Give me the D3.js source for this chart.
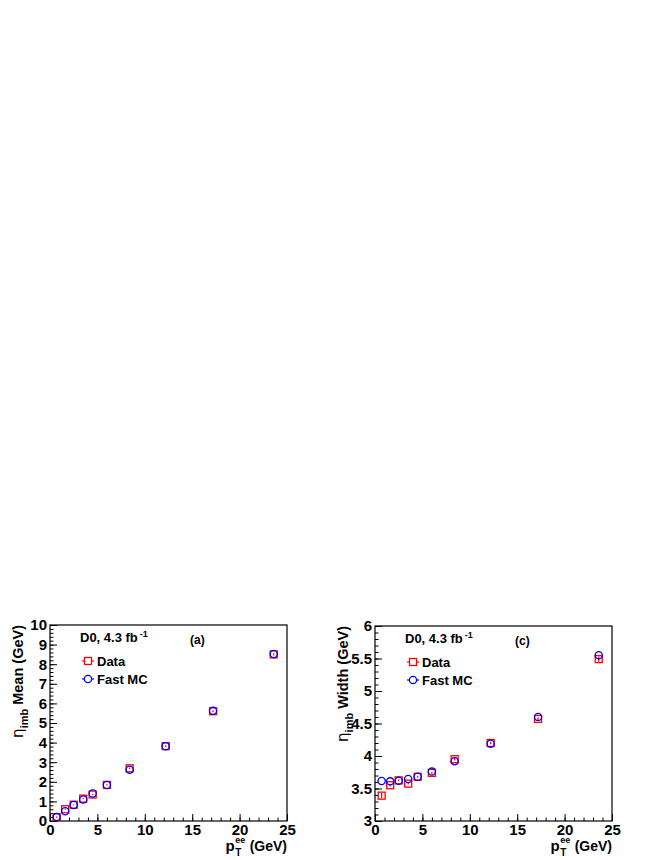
<!DOCTYPE html>
<html>
<head>
<meta charset="utf-8">
<title>eta imb mean and width</title>
<script src="https://d3js.org/d3.v7.min.js"></script>
<style>
body { margin: 0; background: #fff; }
text { font-family: "Liberation Sans", Arial, sans-serif; font-weight: bold; fill: #000; }
.axis path, .axis line { stroke: #000; }
</style>
</head>
<body>
<script>
// pT bin centres (GeV)
var ptBins = [0.7, 1.6, 2.5, 3.5, 4.5, 6.0, 8.4, 12.2, 17.2, 23.6];

// (a) mean of eta_imb
var meanData = [0.20, 0.60, 0.83, 1.14, 1.35, 1.84, 2.69, 3.82, 5.60, 8.50];
var meanDataErr = [0.03, 0.03, 0.03, 0.03, 0.03, 0.03, 0.04, 0.04, 0.05, 0.06];
var meanMC = [0.20, 0.50, 0.82, 1.10, 1.40, 1.84, 2.62, 3.82, 5.62, 8.52];

// (c) width of eta_imb
var widthData = [3.39, 3.55, 3.625, 3.575, 3.68, 3.74, 3.95, 4.20, 4.57, 5.49];
var widthDataErr = [0.04, 0.02, 0.015, 0.015, 0.015, 0.015, 0.02, 0.02, 0.025, 0.04];
var widthMC = [3.615, 3.61, 3.62, 3.645, 3.68, 3.76, 3.92, 4.19, 4.60, 5.55];

var xTicks = [0, 5, 10, 15, 20, 25];
var meanTicks = [0, 1, 2, 3, 4, 5, 6, 7, 8, 9, 10];
var widthTicks = [3, 3.5, 4, 4.5, 5, 5.5, 6];

var legendLabels = ["Data", "Fast MC"];
var lumiLabel = "D0, 4.3 fb";

var W = 664, H = 860;
var svg = d3.select("body").append("svg")
    .attr("width", W)
    .attr("height", H);
svg.append("rect").attr("width", W).attr("height", H).attr("fill", "#fff");

var red = "#ff0000", blue = "#0000ff";

function drawPanel(o) {
  var g = svg.append("g").attr("transform", "translate(" + o.left + "," + o.top + ")");
  var w = o.width, h = o.height;

  var x = d3.scaleLinear().domain([0, 25]).range([0, w]);
  var y = d3.scaleLinear().domain(o.yDomain).range([h, 0]);

  // minor ticks x
  g.append("g").attr("class", "axis")
      .attr("transform", "translate(0," + h + ")")
      .call(d3.axisBottom(x).tickValues(d3.range(0, 26, 1)).tickSize(-3.5).tickFormat(""))
      .call(function(s){ s.select(".domain").remove(); });
  // minor ticks y
  g.append("g").attr("class", "axis")
      .call(d3.axisLeft(y).tickValues(o.yMinor).tickSize(-3.5).tickFormat(""))
      .call(function(s){ s.select(".domain").remove(); });

  // major x
  var xa = g.append("g").attr("class", "axis")
      .attr("transform", "translate(0," + h + ")")
      .call(d3.axisBottom(x).tickValues(xTicks).tickSize(-7).tickPadding(3).tickFormat(d3.format("d")));
  xa.selectAll("text").style("font-size", "15px");
  xa.select(".domain").remove();

  // major y
  var ya = g.append("g").attr("class", "axis")
      .call(d3.axisLeft(y).tickValues(o.yTicks).tickSize(-7).tickPadding(3).tickFormat(o.yFormat));
  ya.selectAll("text").style("font-size", "15px");
  ya.select(".domain").remove();

  // frame
  g.append("rect").attr("width", w).attr("height", h)
      .attr("fill", "none").attr("stroke", "#000").attr("stroke-width", 1.2);

  // y title
  var yt = g.append("text")
      .attr("transform", "translate(" + o.yTitleX + ",0) rotate(-90)")
      .attr("text-anchor", "end")
      .style("font-size", "14.5px");
  yt.append("tspan").style("font-weight", "normal").style("font-family", "DejaVu Sans").style("font-size", "15px").text("\u03b7");
  yt.append("tspan").attr("dy", 5).style("font-size", "11px").text("imb");
  yt.append("tspan").attr("dy", -5).text(" " + o.yTitle);

  // x title: p, subscript T, superscript ee, then (GeV)
  var ty = h + 30;
  var gev = g.append("text").attr("x", w).attr("y", ty).attr("text-anchor", "end")
      .style("font-size", "14px").text("(GeV)");
  var gevW = gev.node().getComputedTextLength();
  var sub = g.append("text").attr("y", ty + 5).style("font-size", "10px").text("T");
  var sup = g.append("text").attr("y", ty - 8).style("font-size", "9px").text("ee");
  var supW = Math.max(sub.node().getComputedTextLength(), sup.node().getComputedTextLength());
  var p = g.append("text").attr("y", ty).style("font-size", "15px").text("p");
  var pW = p.node().getComputedTextLength();
  var px0 = w - gevW - 4 - supW - 1 - pW;
  p.attr("x", px0);
  sub.attr("x", px0 + pW + 0.5);
  sup.attr("x", px0 + pW + 0.5);

  // error bars (data)
  g.selectAll(".err").data(ptBins).enter().append("line")
      .attr("x1", function(d){ return x(d); })
      .attr("x2", function(d){ return x(d); })
      .attr("y1", function(d, i){ return y(o.data[i] - o.err[i]); })
      .attr("y2", function(d, i){ return y(o.data[i] + o.err[i]); })
      .attr("stroke", red).attr("stroke-width", 1.2);

  // data squares
  g.selectAll(".sq").data(ptBins).enter().append("rect")
      .attr("x", function(d){ return x(d) - 3.5; })
      .attr("y", function(d, i){ return y(o.data[i]) - 3.5; })
      .attr("width", 7).attr("height", 7)
      .attr("fill", "none").attr("stroke", red).attr("stroke-width", 1.3);

  // MC circles
  g.selectAll(".mc").data(ptBins).enter().append("circle")
      .attr("cx", function(d){ return x(d); })
      .attr("cy", function(d, i){ return y(o.mc[i]); })
      .attr("r", 3.6)
      .attr("fill", "none").attr("stroke", blue).attr("stroke-width", 1.3);

  // labels
  var lt = g.append("text").attr("x", o.lumiX).attr("y", 17).style("font-size", "13px");
  lt.append("tspan").text(lumiLabel);
  lt.append("tspan").attr("dx", 2).attr("dy", -5).style("font-size", "9px").text("-1");
  g.append("text").attr("x", o.panelX).attr("y", 19).style("font-size", "12px").text(o.panel);

  // legend
  var lx = o.lumiX + 8;
  [[red, "sq"], [blue, "c"]].forEach(function(m, i) {
    var ly = 36 + i * 18;
    g.append("line").attr("x1", lx - 6).attr("x2", lx + 6).attr("y1", ly).attr("y2", ly)
        .attr("stroke", m[0]).attr("stroke-width", 1.2);
    if (m[1] == "sq") {
      g.append("rect").attr("x", lx - 3.5).attr("y", ly - 3.5).attr("width", 7).attr("height", 7)
          .attr("fill", "#fff").attr("stroke", m[0]).attr("stroke-width", 1.3);
    } else {
      g.append("circle").attr("cx", lx).attr("cy", ly).attr("r", 3.6)
          .attr("fill", "#fff").attr("stroke", m[0]).attr("stroke-width", 1.3);
    }
    g.append("text").attr("x", lx + 9).attr("y", ly + 5).style("font-size", "13px").text(legendLabels[i]);
  });
}

drawPanel({
  left: 50, top: 625, width: 237, height: 196,
  yDomain: [0, 10], yTicks: meanTicks, yMinor: d3.range(0, 10.01, 0.2),
  yFormat: d3.format("d"),
  yTitle: "Mean (GeV)", yTitleX: -27,
  data: meanData, err: meanDataErr, mc: meanMC,
  lumiX: 30, panelX: 140, panel: "(a)"
});

drawPanel({
  left: 375, top: 626, width: 237, height: 195,
  yDomain: [3, 6], yTicks: widthTicks, yMinor: d3.range(3, 6.001, 0.1),
  yFormat: function(d){ return d3.format("")(d); },
  yTitle: "Width (GeV)", yTitleX: -27,
  data: widthData, err: widthDataErr, mc: widthMC,
  lumiX: 30, panelX: 140, panel: "(c)"
});
</script>
</body>
</html>
